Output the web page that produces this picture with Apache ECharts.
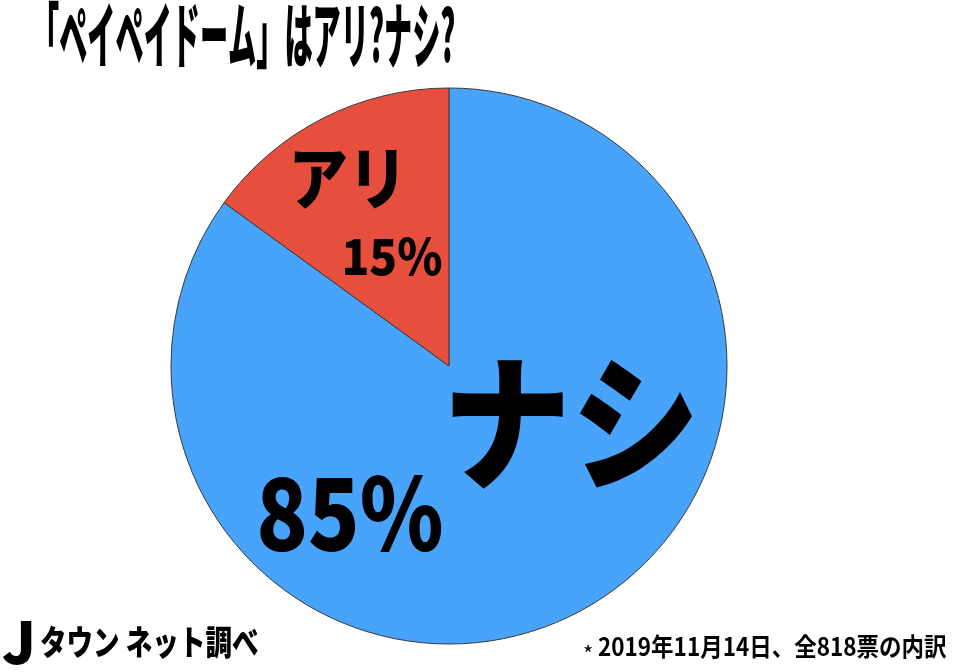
<!DOCTYPE html>
<html><head><meta charset="utf-8">
<script src="https://cdn.jsdelivr.net/npm/echarts@6/dist/echarts.min.js"></script>
<style>html,body{margin:0;padding:0;background:#fff}#c{width:960px;height:672px}</style>
</head><body><div id="c"></div>
<script>
const categories = ['ナシ', 'アリ'];
const values = [85, 15];
const percentLabels = ['85%', '15%'];
const titleText = '「ペイペイドーム」はアリ?ナシ?';
const noteText = '2019年11月14日、全818票の内訳';
const colors = ['#48A3FA', '#E64F3D'];
const FF = '"Noto Sans CJK JP", "Noto Sans", sans-serif';

const chart = echarts.init(document.getElementById('c'));
function txt(text, x, y, size, opts) {
  opts = opts || {};
  return {
    type: 'text', x: x, y: y, scaleX: opts.sx || 1, scaleY: opts.sy || 1, z: 10,
    style: { text: text, fontSize: size, fontFamily: FF, fontWeight: opts.w || 'bold',
      fill: '#000', align: opts.align || 'center', verticalAlign: 'middle' }
  };
}
chart.setOption({
  animation: false,
  backgroundColor: '#fff',
  series: [{
    type: 'pie',
    center: [449, 366],
    radius: [0, 278],
    startAngle: 90,
    clockwise: true,
    label: { show: false },
    labelLine: { show: false },
    itemStyle: { borderColor: '#3a3a3a', borderWidth: 1 },
    emphasis: { disabled: true },
    data: categories.map((c, i) => ({ name: c, value: values[i], itemStyle: { color: colors[i] } }))
  }],
  graphic: [
    txt(titleText, 31, 35, 64, { align: 'left', sx: 0.44, sy: 1.12, w: 900 }),
    txt(categories[0], 571, 422, 140, { sx: 0.92, sy: 1.05, w: 900 }),
    txt(percentLabels[0], 350, 513, 100, { sx: 0.85, w: 900 }),
    txt(categories[1], 348, 178, 66, { sx: 0.9, sy: 1.04, w: 900 }),
    txt(percentLabels[1], 392, 256, 54, { sx: 0.85, sy: 0.92, w: 900 }),
    txt('J', 2, 642, 58, { align: 'left', w: 900 }),
    txt('タウン ネット調べ', 40, 642, 32, { align: 'left', sx: 0.83, sy: 1.08, w: 900 }),
    txt('*', 583, 654, 22, { align: 'left', w: 'normal' }),
    txt(noteText, 598, 646, 25, { align: 'left', sx: 0.9, w: 'bold' })
  ]
});
</script></body></html>
